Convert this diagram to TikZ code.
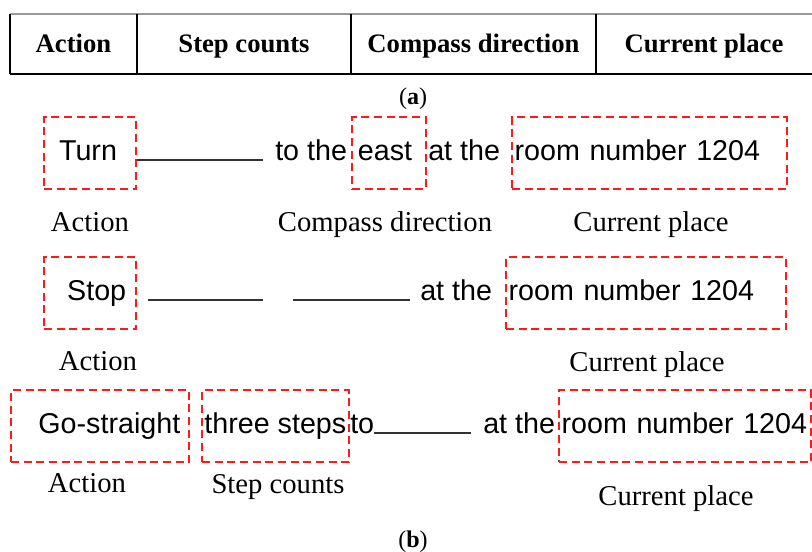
\documentclass[tikz,border=0pt]{standalone}
\usepackage{fontspec}
\setmainfont{Liberation Serif}
\setsansfont{Liberation Sans}
\usetikzlibrary{positioning}

\begin{document}
\begin{tikzpicture}[
    x=0.75pt, y=-0.75pt,
    cell/.style={font=\bfseries\fontsize{20}{24}\selectfont, inner sep=0pt, anchor=base},
    word/.style={font=\sffamily\fontsize{21.5}{26}\selectfont, inner sep=0pt, anchor=base west},
    slot/.style={word, draw=red!90, dash pattern=on 6pt off 3.5pt, line width=1.5pt,
        text height=32pt, text depth=22pt},
    place/.style={slot, inner xsep=2pt, align=left},
    tag/.style={font=\fontsize{21.5}{26}\selectfont, inner sep=0pt, anchor=base},
    blank/.style={draw=black!80, line width=1.5pt},
    caption/.style={font=\fontsize{18}{22}\selectfont, inner sep=0pt, anchor=base}]

\useasboundingbox (0,0) rectangle (812,551);

% Header table
\draw[black!40, line width=1.5pt] (10,14) -- (812,14);
\draw[line width=0.8pt] (10,74) -- (812,74);
\foreach \x in {10,137,351,596}
    \draw[line width=0.8pt] (\x,14) -- (\x,74);
\node[cell] (h-action)  at (73.5,52) {Action};
\node[cell] (h-steps)   at (244,52)  {Step counts};
\node[cell] (h-compass) at (473.5,52) {Compass direction};
\node[cell] (h-place)   at (704,52)  {Current place};
\node[caption] (cap-a) at (413,104) {(\textbf{a})};

% First sentence
\node[slot, minimum width=69pt] (turn) at (43,160) {Turn\hspace*{3pt}};
\coordinate (gap1) at (263,160);
\node[word] (tothe1) at (275,160) {to the};
\node[slot, minimum width=55.5pt] (east) at (351,160) {east\hspace*{6pt}};
\node[word] (atthe1) at (428,160) {at the};
\node[place, text width=202pt] (room1) at (511,160) {room number 1204};
\draw[blank] (turn.base east) -- (gap1);
\node[tag] (t-action1)  at (90,231)  {Action};
\node[tag] (t-compass1) at (385,231) {Compass direction};
\node[tag] (t-place1)   at (651,231) {Current place};

% Second sentence
\node[slot, minimum width=69pt] (stop) at (43,300) {\hspace*{10pt}Stop};
\coordinate (gap2a) at (148,300);
\coordinate (gap2b) at (263,300);
\coordinate (gap2c) at (293,300);
\coordinate (gap2d) at (410,300);
\node[word] (atthe2) at (420,300) {at the};
\node[place, text width=206pt] (room2) at (505,300) {room number 1204};
\draw[blank] (gap2a) -- (gap2b);
\draw[blank] (gap2c) -- (gap2d);
\node[tag] (t-action2) at (98,370)  {Action};
\node[tag] (t-place2)  at (647,371) {Current place};

% Third sentence
\node[slot, minimum width=133.5pt] (go) at (10,433) {\hspace*{14pt}Go-straight};
\node[slot, minimum width=110pt] (three) at (201,433) {three steps};
\node[word] (to3) at (350,433) {to};
\coordinate (gap3) at (471,433);
\node[word] (atthe3) at (483,433) {at the};
\node[place, text width=185pt] (room3) at (558,433) {room number 1204};
\draw[blank] (to3.base east) -- (gap3);
\node[tag] (t-action3) at (87,492)  {Action};
\node[tag] (t-steps3)  at (278,493) {Step counts};
\node[tag] (t-place3)  at (676,505) {Current place};

\node[caption] (cap-b) at (413,547) {(\textbf{b})};

\end{tikzpicture}
\end{document}
